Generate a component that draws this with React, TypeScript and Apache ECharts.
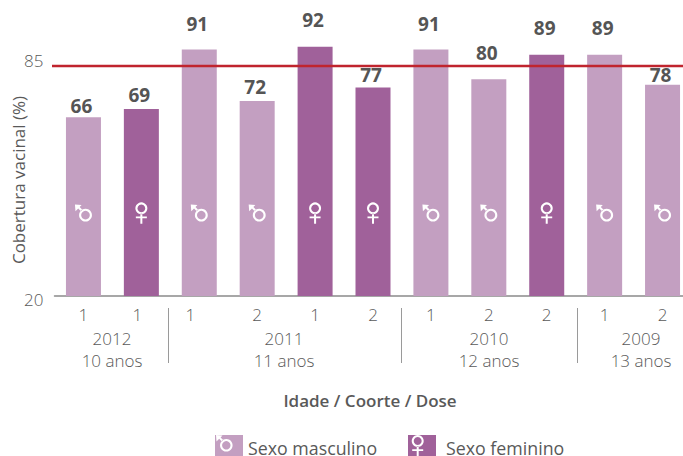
import React, { useEffect, useRef } from "react";
import * as echarts from "echarts";

const doses = ["1", "1", "1", "2", "1", "2", "1", "2", "2", "1", "2"];
const maleValues: (number | null)[] = [66, null, 91, 72, null, null, 91, 80, null, 89, 78];
const femaleValues: (number | null)[] = [null, 69, null, null, 92, 77, null, null, 89, null, null];
const cohorts = ["2012\n10 anos", "2011\n11 anos", "2010\n12 anos", "2009\n13 anos"];
const yTickValues = [0, 85];
const yTickLabels = ["20", "85"];
const targetCoverage = 85;
const iconLevel = 30.6;
const labelLift = [2, 5, 16, 4, 17, 3, 16, 17, 17, 17, 0];

const MALE_COLOR = "#c39fc1";
const FEMALE_COLOR = "#a0619a";
const TEXT = "#595959";
const FONT = '"Open Sans", sans-serif';

const maleIcon =
  "M10.3 4 A6.3 6.3 0 1 0 10.31 4 Z M10.3 6.1 A4.2 4.2 0 1 1 10.29 6.1 Z " +
  "M0 0 L6.5 0.5 L4.6 2.4 L7.2 5 L5.8 6.4 L3.2 3.8 L0.5 6.5 Z";
const femaleIcon =
  "M6 0 A6 6 0 1 0 6.01 0 Z M6 2.1 A3.9 3.9 0 1 1 5.99 2.1 Z " +
  "M5 11.5 H7 V14.2 H11.5 V16 H7 V21.5 H5 V16 H0.5 V14.2 H5 Z";

echarts.graphic.registerShape("maleLegend", echarts.graphic.extendPath(maleIcon, {}));
echarts.graphic.registerShape("femaleLegend", echarts.graphic.extendPath(femaleIcon, {}));

export default function App() {
  const ref = useRef<HTMLDivElement>(null);
  useEffect(() => {
    document.body.style.margin = "0";
    const chart = echarts.init(ref.current!, undefined, { renderer: "svg" });
    const labelItem = (v: number | null, i: number) => {
      if (v === null) return null;
      return { value: v, label: { offset: [-2, -labelLift[i]] } };
    };
    const barBase = {
      type: "bar" as const,
      stack: "sex",
      barWidth: 35,
      label: {
        show: true,
        position: "top" as const,
        distance: 0,
        fontFamily: FONT,
        fontSize: 19,
        fontWeight: 700,
        color: "#555555",
      },
    };
    const tick = { fontFamily: FONT, fontSize: 17, fontWeight: 300, color: TEXT };
    chart.setOption({
      animation: false,
      textStyle: { fontFamily: FONT },
      grid: { left: 54.5, right: -8.5, top: 0, height: 296, outerBoundsMode: "none" },
      xAxis: {
        type: "category",
        data: doses,
        axisLine: { lineStyle: { color: "#8a8a8a", width: 1.5 } },
        axisTick: { show: false },
        axisLabel: {
          interval: 0,
          margin: 10,
          formatter: (v: string, i: number) => `{${i === 1 ? "b" : i === 2 ? "c" : "a"}|${v}}`,
          rich: {
            a: tick,
            b: { ...tick, padding: [0, 8, 0, 0] },
            c: { ...tick, padding: [0, 18, 0, 0] },
          },
        },
        name: "Idade / Coorte / Dose",
        nameLocation: "middle",
        nameGap: 96,
        nameTextStyle: { fontFamily: FONT, fontSize: 17, fontWeight: 600, color: "#595959", padding: [0, 6, 0, 0] },
      },
      yAxis: {
        type: "value",
        min: 0,
        max: 109.25,
        axisLine: { show: false },
        axisTick: { show: false },
        splitLine: { show: false },
        axisLabel: {
          customValues: yTickValues,
          margin: 11,
          formatter: (v: number) => {
            const s = yTickLabels[yTickValues.indexOf(v)];
            return v === yTickValues[0] ? `{low|${s}}` : `{high|${s}}`;
          },
          rich: {
            low: { ...tick, padding: [6, 0, 0, 0] },
            high: { ...tick, padding: [0, 0, 10, 0] },
          },
        },
        name: "Cobertura vacinal (%)",
        nameLocation: "middle",
        nameMoveOverlap: false,
        nameGap: 28,
        nameTextStyle: { fontFamily: FONT, fontSize: 17, fontWeight: 400, color: "#595959", padding: [0, 64, 0, 0] },
      },
      legend: [
        {
          data: ["Sexo masculino"],
          left: 210,
          top: 430,
          itemWidth: 28,
          itemHeight: 26,
          icon: "rect",
          selectedMode: false,
          textStyle: { fontFamily: FONT, fontSize: 17.8, lineHeight: 18, color: "#595959", padding: [6, 0, 0, 0] },
        },
        {
          data: ["Sexo feminino"],
          left: 403,
          top: 430,
          itemWidth: 28,
          itemHeight: 26,
          icon: "rect",
          selectedMode: false,
          textStyle: { fontFamily: FONT, fontSize: 17.8, lineHeight: 18, color: "#595959", padding: [6, 0, 0, 5] },
        },
      ],
      series: [
        {
          ...barBase,
          name: "Sexo masculino",
          itemStyle: { color: MALE_COLOR },
          data: maleValues.map(labelItem),
          markLine: {
            silent: true,
            symbol: "none",
            label: { show: false },
            lineStyle: { color: "#c0242e", width: 2.4, type: "solid" },
            data: [[{ x: 52, yAxis: targetCoverage }, { x: 683, yAxis: targetCoverage }]],
          },
        },
        {
          ...barBase,
          name: "Sexo feminino",
          itemStyle: { color: FEMALE_COLOR },
          data: femaleValues.map(labelItem),
        },
        {
          type: "scatter",
          name: "iconM",
          symbol: "path://" + maleIcon,
          symbolSize: [17, 17],
          itemStyle: { color: "#ffffff", opacity: 1 },
          data: maleValues.map((v) => (v === null ? "-" : iconLevel)),
          z: 5,
        },
        {
          type: "scatter",
          name: "iconF",
          symbol: "path://" + femaleIcon,
          symbolSize: [12, 21.5],
          itemStyle: { color: "#ffffff", opacity: 1 },
          data: femaleValues.map((v) => (v === null ? "-" : iconLevel)),
          z: 5,
        },
      ],
      graphic: [
        ...[168.5, 401.5, 577.5].map((x) => ({
          type: "line",
          shape: { x1: x, y1: 308, x2: x, y2: 363 },
          style: { stroke: "#9a9a9a", lineWidth: 1 },
        })),
        ...cohorts.map((text, i) => ({
          type: "text",
          x: [112, 284, 489, 641][i],
          y: 327,
          style: {
            text,
            fontFamily: FONT,
            fontSize: 17,
            fontWeight: 300,
            lineHeight: 22,
            fill: TEXT,
            align: "center",
          },
        })),
        { type: "maleLegend", x: 216, y: 435, z: 100, zlevel: 1, style: { fill: "#ffffff" } },
        { type: "femaleLegend", x: 411.7, y: 435, z: 100, zlevel: 1, style: { fill: "#ffffff" } },
      ],
    });
    return () => chart.dispose();
  }, []);
  return <div ref={ref} style={{ width: 683, height: 456 }} />;
}
